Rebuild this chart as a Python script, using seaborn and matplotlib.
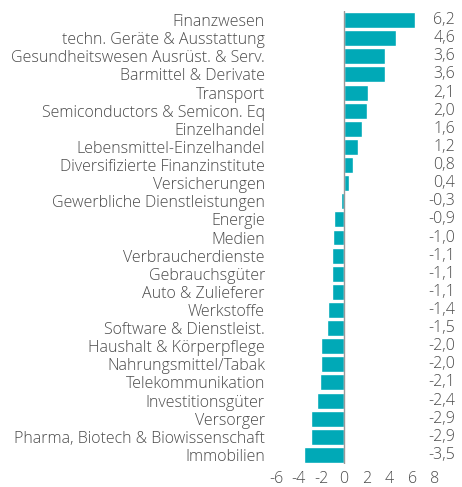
import matplotlib
matplotlib.use("Agg")
import matplotlib.pyplot as plt
import seaborn as sns
import pandas as pd

categories = [
    "Finanzwesen", "techn. Geräte & Ausstattung", "Gesundheitswesen Ausrüst. & Serv.",
    "Barmittel & Derivate", "Transport", "Semiconductors & Semicon. Eq",
    "Einzelhandel", "Lebensmittel-Einzelhandel", "Diversifizierte Finanzinstitute",
    "Versicherungen", "Gewerbliche Dienstleistungen", "Energie", "Medien",
    "Verbraucherdienste", "Gebrauchsgüter", "Auto & Zulieferer", "Werkstoffe",
    "Software & Dienstleist.", "Haushalt & Körperpflege", "Nahrungsmittel/Tabak",
    "Telekommunikation", "Investitionsgüter", "Versorger",
    "Pharma, Biotech & Biowissenschaft", "Immobilien",
]
values = [6.2, 4.6, 3.6, 3.6, 2.1, 2.0, 1.6, 1.2, 0.8, 0.4, -0.3, -0.9, -1.0,
          -1.1, -1.1, -1.1, -1.4, -1.5, -2.0, -2.0, -2.1, -2.4, -2.9, -2.9, -3.5]
xticks = [-6, -4, -2, 0, 2, 4, 6, 8]

sns.set_theme(style="white")
plt.rcParams['font.family'] = ['Open Sans', 'DejaVu Sans']

df = pd.DataFrame({"cat": categories, "val": values})

fig = plt.figure(figsize=(4.62, 4.87), dpi=100)
ax = fig.add_axes([276/462, 1 - 464/487, (435 - 276)/462, (464 - 11)/487])

sns.barplot(data=df, y="cat", x="val", orient="h", color="#00A9B7",
            saturation=1, width=0.88, ax=ax)

ax.axvline(0, color="#999999", lw=1, zorder=3)
ax.set_xlim(-6, 8)
ax.set_ylim(len(categories) - 0.5, -0.5)
ax.set_xticks(xticks)
ax.set_xticklabels([str(t) for t in xticks])
ax.set_xlabel("")
ax.set_ylabel("")
for s in ax.spines.values():
    s.set_visible(False)
fs = 11.5
ax.tick_params(axis="both", length=0, colors="#4a4a4a", labelsize=fs)
ax.tick_params(axis="x", pad=5)
ax.tick_params(axis="y", pad=8)
for lbl in ax.get_yticklabels() + ax.get_xticklabels():
    lbl.set_fontweight("light")

for i, v in enumerate(values):
    ax.text(1.126, i, f"{v:.1f}".replace(".", ","), transform=ax.get_yaxis_transform(),
            ha="right", va="center", fontsize=fs, color="#4a4a4a",
            fontweight="light", clip_on=False)

fig.savefig("out.png", dpi=100)
